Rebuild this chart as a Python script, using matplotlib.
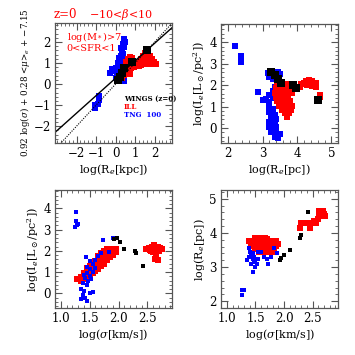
import matplotlib
matplotlib.use("Agg")
import matplotlib.pyplot as plt
from matplotlib.ticker import MultipleLocator

plt.rcParams["font.family"] = ["DejaVu Serif"]
plt.rcParams["mathtext.fontset"] = "dejavuserif"

# --- top-left: FP combination vs log(Re[kpc])
wings_tl_x = [0.1, 0.25, 0.35, 0.45, 0.85, 1.6]
wings_tl_y = [0.2, 0.35, 0.55, 0.75, 1.05, 1.6]
ill_tl_x = [0.35, 0.45, 0.5, 0.55, 0.55, 0.65, 0.75, 0.85, 0.7, 0.8, 0.65, 0.75, 0.95, 1.05,
            1.2, 1.3, 1.4, 1.5, 1.65, 1.75, 1.85, 1.95, 2.05, 1.8, 1.6, 1.45, 1.3, 1.2, 1.55, 1.65]
ill_tl_y = [0.3, 0.45, 0.65, 0.85, 1.05, 1.2, 1.3, 1.25, 0.95, 0.75, 0.6, 0.5, 0.8, 0.95,
            1.05, 1.2, 1.35, 1.5, 1.5, 1.35, 1.2, 1.05, 0.95, 0.95, 0.95, 0.95, 0.9, 0.85, 1.2, 1.15]
tng_tl_x = [0.45, 0.5, 0.4, 0.45, 0.35, 0.4, 0.3, 0.35, 0.25, 0.3, 0.2, 0.15, 0.25, 0.1, 0.0,
            -0.1, -0.3, -0.2, 0.05, 0.2, 0.3, 0.45, 0.0, 0.1, 0.2, 0.3,
            -0.85, -0.85, -0.9, -1.05, -1.05]
tng_tl_y = [2.15, 2.0, 1.9, 1.75, 1.6, 1.45, 1.35, 1.2, 1.1, 0.95, 0.85, 1.0, 0.7, 0.65, 0.75,
            0.6, 0.55, 0.7, 0.5, 0.5, 0.15, 0.15, 0.3, 0.85, 1.25, 1.7,
            -0.55, -0.75, -0.95, -1.15, -1.0]

# --- top-right: log(Ie) vs log(Re[pc])
wings_tr_x = [3.25, 3.35, 3.45, 3.55, 3.88, 3.98, 4.62]
wings_tr_y = [2.62, 2.47, 2.3, 2.08, 2.0, 1.88, 1.3]
ill_tr_x = [3.42, 3.55, 3.68,
            3.38, 3.5, 3.62, 3.75,
            3.35, 3.47, 3.6, 3.72, 3.85,
            3.38, 3.5, 3.62, 3.75,
            3.42, 3.55, 3.68, 3.8,
            3.47, 3.6, 3.72, 3.85,
            3.57, 3.7, 3.82,
            3.65, 3.78, 3.72,
            3.48, 3.6, 3.72, 3.44, 3.56, 3.68, 3.8, 3.5, 3.62, 3.74, 3.55, 3.68, 3.8,
            4.1, 4.12, 4.25, 4.35, 4.45, 4.55, 4.3, 4.45, 4.55, 4.2, 4.68, 4.68]
ill_tr_y = [2.05, 2.05, 2.05,
            1.85, 1.85, 1.85, 1.85,
            1.65, 1.65, 1.65, 1.65, 1.65,
            1.45, 1.45, 1.45, 1.45,
            1.25, 1.25, 1.25, 1.25,
            1.05, 1.05, 1.05, 1.05,
            0.85, 0.85, 0.85,
            0.68, 0.68, 0.52,
            1.95, 1.95, 1.95, 1.75, 1.75, 1.75, 1.75, 1.35, 1.35, 1.35, 1.15, 1.15, 1.15,
            1.9, 2.05, 2.2, 2.25, 2.2, 2.1, 2.0, 1.95, 1.9, 2.1, 1.55, 1.45]
tng_tr_x = [2.2, 2.37, 2.37, 3.15, 3.2, 3.3, 3.45, 3.5, 3.58, 2.88, 3.35, 3.3, 3.2, 3.1, 3.0,
            3.3, 3.2, 3.2, 3.3, 3.2, 3.25, 3.35, 3.2, 3.3, 3.4, 3.3, 3.4, 3.5, 3.35, 3.45,
            3.25, 3.35, 3.2, 3.4]
tng_tr_y = [3.82, 3.35, 3.1, 2.55, 2.4, 2.3, 2.62, 2.5, 2.0, 1.68, 1.9, 1.75, 1.55, 1.35, 1.3,
            1.4, 1.2, 1.0, 0.9, 0.75, 0.55, 0.35, 0.3, 0.15, 0.05, -0.1, -0.2, -0.3, -0.4, -0.45,
            -0.2, 0.6, 0.05, 0.4]

# --- bottom-left: log(Ie) vs log(sigma)
wings_bl_x = [1.93, 1.98, 2.02, 2.1, 2.28, 2.3, 2.42]
wings_bl_y = [2.55, 2.62, 2.4, 2.1, 2.0, 1.9, 1.3]
ill_bl_x = [1.35, 1.35, 1.4, 1.4, 1.4, 1.45, 1.45, 1.45, 1.45, 1.5, 1.5, 1.5, 1.5,
            1.55, 1.55, 1.55, 1.55, 1.6, 1.6, 1.6, 1.6, 1.65, 1.65, 1.65, 1.65, 1.65,
            1.7, 1.7, 1.7, 1.7, 1.7, 1.75, 1.75, 1.75, 1.75, 1.75, 1.8, 1.8, 1.8, 1.8, 1.8,
            1.85, 1.85, 1.85, 1.85, 1.9, 1.9, 1.9, 1.95, 1.95, 1.28,
            1.42, 1.47, 1.52, 1.57, 1.62, 1.67, 1.72, 1.77, 1.82, 1.87,
            1.47, 1.52, 1.57, 1.62, 1.67, 1.72, 1.77, 1.82,
            2.48, 2.52, 2.55, 2.58, 2.62, 2.65, 2.68, 2.72, 2.6, 2.65, 2.63, 2.68, 2.75, 2.57, 2.7]
ill_bl_y = [0.6, 0.75, 0.65, 0.8, 0.95, 0.75, 0.9, 1.05, 1.2, 0.85, 1.0, 1.15, 1.3,
            0.95, 1.1, 1.25, 1.4, 1.05, 1.2, 1.35, 1.5, 1.15, 1.3, 1.45, 1.6, 1.75,
            1.3, 1.45, 1.6, 1.75, 1.9, 1.4, 1.55, 1.7, 1.85, 2.0, 1.55, 1.7, 1.85, 2.0, 2.1,
            1.7, 1.85, 2.0, 2.1, 1.8, 1.95, 2.1, 1.95, 2.1, 0.65,
            0.88, 0.98, 1.08, 1.18, 1.28, 1.4, 1.52, 1.62, 1.78, 1.92,
            1.12, 1.22, 1.32, 1.45, 1.55, 1.68, 1.8, 1.95,
            2.1, 2.15, 2.05, 2.2, 2.25, 2.1, 2.2, 2.15, 1.95, 1.85, 1.6, 1.55, 2.1, 2.0, 2.0]
tng_bl_x = [1.27, 1.27, 1.3, 1.25, 1.28, 1.73, 1.91, 1.83, 1.44, 1.5, 1.55, 1.6, 1.65, 1.7,
            1.45, 1.5, 1.55, 1.6, 1.45, 1.4, 1.5, 1.48, 1.42, 1.52, 1.35, 1.4, 1.38, 1.42,
            1.45, 1.5, 1.55, 1.35, 1.45, 1.38]
tng_bl_y = [3.85, 3.4, 3.25, 3.1, 3.2, 2.5, 2.6, 1.95, 1.72, 1.5, 1.4, 1.55, 1.75, 1.9,
            1.25, 1.15, 1.0, 1.2, 0.95, 0.85, 0.8, 0.6, 0.7, 0.65, 0.2, 0.1, -0.1, -0.2,
            -0.35, 0.0, 0.05, -0.25, 0.4, 0.5]

# --- bottom-right: log(Re[pc]) vs log(sigma)
wings_br_x = [1.93, 1.95, 2.0, 2.1, 2.28, 2.3, 2.42]
wings_br_y = [3.2, 3.28, 3.35, 3.5, 3.85, 3.95, 4.62]
ill_br_x = [1.5, 1.58, 1.66,
            1.38, 1.46, 1.54, 1.62, 1.7, 1.78, 1.86,
            1.42, 1.5, 1.58, 1.66, 1.74, 1.82, 1.9,
            1.46, 1.54, 1.62, 1.7, 1.78, 1.86,
            1.5, 1.58, 1.66, 1.74, 1.82,
            1.56, 1.64, 1.72, 1.8,
            1.54, 1.62, 1.7, 1.5, 1.58, 1.66, 1.74, 1.82, 1.6, 1.68, 1.76,
            2.28, 2.3, 2.38, 2.45, 2.48, 2.52, 2.56, 2.6, 2.62, 2.65, 2.7, 2.68, 2.62, 2.72]
ill_br_y = [3.85, 3.85, 3.85,
            3.77, 3.77, 3.77, 3.77, 3.77, 3.77, 3.77,
            3.69, 3.69, 3.69, 3.69, 3.69, 3.69, 3.69,
            3.61, 3.61, 3.61, 3.61, 3.61, 3.61,
            3.53, 3.53, 3.53, 3.53, 3.53,
            3.45, 3.45, 3.45, 3.45,
            3.81, 3.81, 3.81, 3.65, 3.65, 3.65, 3.65, 3.65, 3.49, 3.49, 3.49,
            4.15, 4.3, 4.3, 4.15, 4.3, 4.35, 4.3, 4.4, 4.5, 4.6, 4.55, 4.65, 4.65, 4.5]
tng_br_x = [1.27, 1.3, 1.27, 1.45, 1.35, 1.38, 1.4, 1.38, 1.42, 1.45, 1.48, 1.5, 1.52, 1.55,
            1.48, 1.45, 1.6, 1.65, 1.7, 1.72, 1.78, 1.82, 1.5, 1.42, 1.55, 1.88]
tng_br_y = [2.33, 2.33, 2.17, 2.85, 3.2, 3.3, 3.45, 3.55, 3.35, 3.25, 3.3, 3.2, 3.1, 3.25,
            3.15, 3.4, 3.45, 3.3, 3.25, 3.1, 3.3, 3.55, 3.0, 3.1, 3.45, 3.4]

fp_line_x = [-3.1, 2.9]
fp_slope, fp_icpt = 0.83, 0.28

lab_ie = r"log(I$_e$[L$_\odot$/pc$^2$])"
lab_sig = r"log($\sigma$[km/s])"

fig = plt.figure(figsize=(3.55, 3.55), dpi=100)
ax_tl = fig.add_axes([0.155, 0.597, 0.330, 0.338])
ax_tr = fig.add_axes([0.623, 0.597, 0.330, 0.335])
ax_bl = fig.add_axes([0.155, 0.132, 0.330, 0.332])
ax_br = fig.add_axes([0.623, 0.132, 0.330, 0.332])


def style(ax, xlim, ylim, xmaj, xmin, ymaj, ymin):
    ax.set_xlim(*xlim)
    ax.set_ylim(*ylim)
    ax.xaxis.set_major_locator(MultipleLocator(xmaj))
    ax.xaxis.set_minor_locator(MultipleLocator(xmin))
    ax.yaxis.set_major_locator(MultipleLocator(ymaj))
    ax.yaxis.set_minor_locator(MultipleLocator(ymin))
    ax.tick_params(which="both", direction="in", top=True, right=True,
                   color="#555555", labelsize=8.5, pad=3)
    ax.tick_params(which="major", length=5, width=0.8)
    ax.tick_params(which="minor", length=2.5, width=0.6)
    for s in ax.spines.values():
        s.set_color("#555555")
        s.set_linewidth(0.9)


big, small = 20, 9

# top-left
ax = ax_tl
ax.plot(fp_line_x, [fp_slope * v + fp_icpt for v in fp_line_x], color="black", lw=1.0)
ax.plot(fp_line_x, fp_line_x, color="black", lw=0.8, ls=(0, (1, 1.2)))
ax.scatter(tng_tl_x, tng_tl_y, s=big, marker="s", color="blue", lw=0)
ax.scatter(ill_tl_x, ill_tl_y, s=big + 4, marker="s", color="red", lw=0)
ax.scatter(wings_tl_x, wings_tl_y, s=big + 6, marker="s", color="black", lw=0)
style(ax, (-3.1, 2.9), (-2.8, 2.9), 1, 0.2, 1, 0.2)
ax.set_xticks([-2, -1, 0, 1, 2])
ax.set_xlabel(r"log(R$_e$[kpc])", fontsize=8, labelpad=1)
ax.set_ylabel(r"0.92 log($\sigma$) + 0.28 <$\mu$>$_e$ + $-$7.15", fontsize=6.3, labelpad=1)
ax.text(0.1, 0.86, r"log(M$_*$)>7", transform=ax.transAxes, color="red", fontsize=7)
ax.text(0.1, 0.77, "0<SFR<1", transform=ax.transAxes, color="red", fontsize=7)
ax.text(0.59, 0.35, "WINGS (z=0)", transform=ax.transAxes, color="black", fontsize=5, weight="bold")
ax.text(0.59, 0.285, "ILL", transform=ax.transAxes, color="red", fontsize=5, weight="bold")
ax.text(0.59, 0.22, "TNG  100", transform=ax.transAxes, color="blue", fontsize=5, weight="bold")
fig.text(0.152, 0.95, "z=0", color="red", fontsize=8.5)
fig.text(0.25, 0.95, r"$-$10<$\beta$<10", color="red", fontsize=8)

# top-right
ax = ax_tr
ax.scatter(tng_tr_x, tng_tr_y, s=big, marker="s", color="blue", lw=0)
ax.scatter(ill_tr_x, ill_tr_y, s=big + 4, marker="s", color="red", lw=0)
ax.scatter(wings_tr_x, wings_tr_y, s=big + 6, marker="s", color="black", lw=0)
style(ax, (1.8, 5.2), (-0.7, 4.85), 1, 0.2, 1, 0.2)
ax.set_xlabel(r"log(R$_e$[pc])", fontsize=8, labelpad=1)
ax.set_ylabel(lab_ie, fontsize=8, labelpad=2)

# bottom-left
ax = ax_bl
ax.scatter(ill_bl_x, ill_bl_y, s=small + 5, marker="s", color="red", lw=0)
ax.scatter(tng_bl_x, tng_bl_y, s=small, marker="s", color="blue", lw=0)
ax.scatter(wings_bl_x, wings_bl_y, s=small, marker="s", color="black", lw=0)
style(ax, (0.9, 2.93), (-0.7, 4.85), 0.5, 0.1, 1, 0.2)
ax.set_xlabel(lab_sig, fontsize=8, labelpad=1)
ax.set_ylabel(lab_ie, fontsize=8, labelpad=2)

# bottom-right
ax = ax_br
ax.scatter(ill_br_x, ill_br_y, s=small + 5, marker="s", color="red", lw=0)
ax.scatter(tng_br_x, tng_br_y, s=small, marker="s", color="blue", lw=0)
ax.scatter(wings_br_x, wings_br_y, s=small, marker="s", color="black", lw=0)
style(ax, (0.9, 2.95), (1.8, 5.25), 0.5, 0.1, 1, 0.2)
ax.set_xlabel(lab_sig, fontsize=8, labelpad=1)
ax.set_ylabel(r"log(R$_e$[pc])", fontsize=8, labelpad=2)

fig.savefig("out.png", dpi=100)
